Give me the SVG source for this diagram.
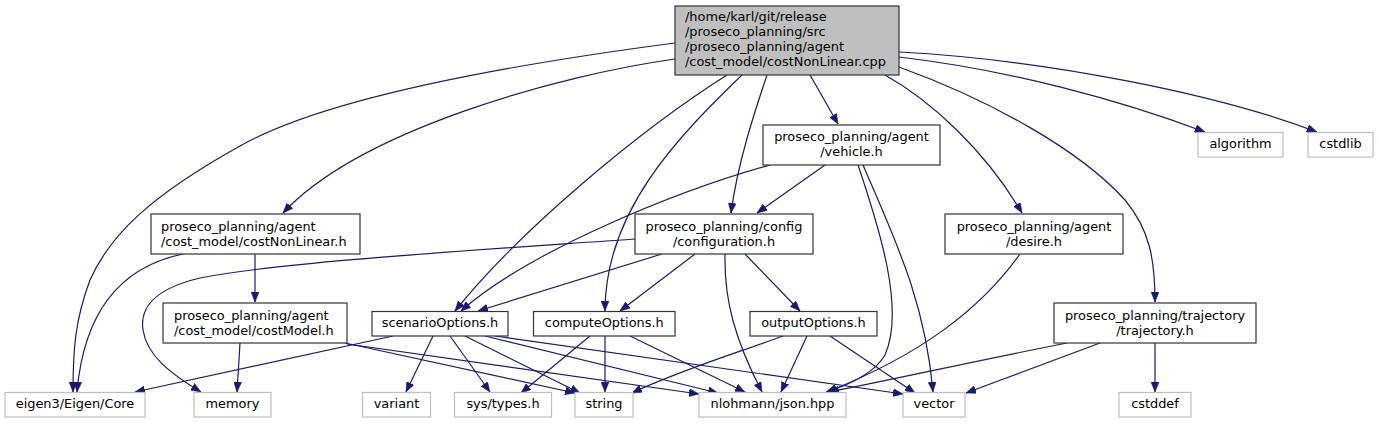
<svg xmlns="http://www.w3.org/2000/svg" width="1379" height="424" viewBox="0 0 1379 424">
<defs>
<marker id="ah" markerUnits="userSpaceOnUse" markerWidth="10" markerHeight="8" refX="10" refY="4" orient="auto" viewBox="0 0 10 8">
<path d="M0,0 L10,4 L0,8 z" fill="#191970" stroke="#191970" stroke-width="0.5"/>
</marker>
<style>
.n rect{fill:#fff;stroke:#333;stroke-width:1.2}
.n.top rect{fill:#bfbfbf}
.n.ext rect{stroke:#bfbfbf}
text{font-family:"DejaVu Sans","Liberation Sans",sans-serif;font-size:12.9px;fill:#000}
.c{text-anchor:middle}
#edges path{fill:none;stroke:#191970;stroke-width:1.2;marker-end:url(#ah)}
</style>
</defs>
<rect width="1379" height="424" fill="#fff"/>
<g id="edges">
<path d="M675,43 C530,62 330,95 240,146 C150,196 110,235 90,280 C75,320 73,350 73,392"/>
<path d="M675,59 C560,75 360,130 283,213"/>
<path d="M727,75 C640,130 520,230 455,311"/>
<path d="M742,75 C680,135 605,210 605,311"/>
<path d="M767,75 C757,105 738,160 731,213"/>
<path d="M810,75 L838,124"/>
<path d="M885,75 C930,100 985,150 1022,213"/>
<path d="M899,67 C990,100 1080,150 1125,200 C1150,230 1155,260 1155,302"/>
<path d="M899,57 C1010,70 1120,100 1205,132"/>
<path d="M899,52 C1050,60 1220,95 1317,132"/>
<path d="M183,254 C130,265 85,300 77,392"/>
<path d="M255,254 L255,302"/>
<path d="M240,343 L237,392"/>
<path d="M345,343 L575,393"/>
<path d="M347,344 L699,394"/>
<path d="M770,165 C680,190 530,250 461,311"/>
<path d="M825,165 L757,213"/>
<path d="M858,165 C880,230 905,310 885,355 C875,372 855,383 826,392"/>
<path d="M863,165 C895,240 925,300 933,392"/>
<path d="M635,239 C480,250 280,262 200,278 C150,290 140,310 143,330 C147,355 168,372 201,392"/>
<path d="M662,254 L478,311"/>
<path d="M695,254 L620,311"/>
<path d="M745,254 L800,311"/>
<path d="M725,254 C724,300 735,340 762,392"/>
<path d="M1020,254 C980,310 920,355 827,392"/>
<path d="M393,336 L135,392"/>
<path d="M433,336 L406,392"/>
<path d="M450,336 L490,392"/>
<path d="M465,336 L580,393"/>
<path d="M485,336 L718,393"/>
<path d="M495,336 L903,394"/>
<path d="M590,336 L521,393"/>
<path d="M605,336 L605,392"/>
<path d="M630,336 L745,392"/>
<path d="M783,336 C740,352 680,370 632,393"/>
<path d="M807,336 L781,392"/>
<path d="M830,336 L915,393"/>
<path d="M1067,343 C980,360 900,378 829,392"/>
<path d="M1100,343 L966,393"/>
<path d="M1155,343 L1155,392"/>
</g>
<g id="n1" class="n top"><rect x="675" y="6" width="224" height="69"/>
<text x="685" y="21">/home/karl/git/release</text><text x="685" y="36">/proseco_planning/src</text><text x="685" y="51">/proseco_planning/agent</text><text x="685" y="66">/cost_model/costNonLinear.cpp</text></g>
<g id="n2" class="n"><rect x="763" y="125" width="177" height="40"/>
<text class="c" x="851.5" y="141">proseco_planning/agent</text><text class="c" x="851.5" y="156">/vehicle.h</text></g>
<g id="n3" class="n"><rect x="151" y="214" width="209" height="40"/>
<text x="161" y="230.5">proseco_planning/agent</text><text x="161" y="245.5">/cost_model/costNonLinear.h</text></g>
<g id="n4" class="n"><rect x="635" y="214" width="178" height="40"/>
<text class="c" x="724" y="230.5">proseco_planning/config</text><text class="c" x="724" y="245.5">/configuration.h</text></g>
<g id="n5" class="n"><rect x="945" y="214" width="178" height="40"/>
<text class="c" x="1034" y="230.5">proseco_planning/agent</text><text class="c" x="1034" y="245.5">/desire.h</text></g>
<g id="n6" class="n"><rect x="163" y="303" width="184" height="40"/>
<text x="174" y="319.5">proseco_planning/agent</text><text x="174" y="334.5">/cost_model/costModel.h</text></g>
<g id="n7" class="n"><rect x="372" y="311.5" width="136" height="24.5"/><text class="c" x="440" y="327">scenarioOptions.h</text></g>
<g id="n8" class="n"><rect x="533.5" y="311.5" width="141.5" height="24.5"/><text class="c" x="604.25" y="327">computeOptions.h</text></g>
<g id="n9" class="n"><rect x="750" y="311.5" width="127" height="24.5"/><text class="c" x="813.5" y="327">outputOptions.h</text></g>
<g id="n10" class="n"><rect x="1054" y="303" width="202" height="40"/>
<text class="c" x="1155" y="319.5">proseco_planning/trajectory</text><text class="c" x="1155" y="334.5">/trajectory.h</text></g>
<g id="n11" class="n ext"><rect x="1198" y="132.5" width="85" height="24.5"/><text class="c" x="1240.5" y="148">algorithm</text></g>
<g id="n12" class="n ext"><rect x="1308" y="132.5" width="65" height="24.5"/><text class="c" x="1340.5" y="148">cstdlib</text></g>
<g id="n13" class="n ext"><rect x="5" y="392.5" width="140" height="24.5"/><text class="c" x="75" y="408">eigen3/Eigen/Core</text></g>
<g id="n14" class="n ext"><rect x="194" y="392.5" width="77" height="24.5"/><text class="c" x="232.5" y="408">memory</text></g>
<g id="n15" class="n ext"><rect x="362.5" y="392.5" width="68" height="24.5"/><text class="c" x="396.5" y="408">variant</text></g>
<g id="n16" class="n ext"><rect x="454.5" y="392.5" width="97" height="24.5"/><text class="c" x="503" y="408">sys/types.h</text></g>
<g id="n17" class="n ext"><rect x="575" y="392.5" width="58" height="24.5"/><text class="c" x="604" y="408">string</text></g>
<g id="n18" class="n ext"><rect x="699" y="392.5" width="147" height="24.5"/><text class="c" x="772.5" y="408">nlohmann/json.hpp</text></g>
<g id="n19" class="n ext"><rect x="903" y="392.5" width="62" height="24.5"/><text class="c" x="934" y="408">vector</text></g>
<g id="n20" class="n ext"><rect x="1119" y="392.5" width="72" height="24.5"/><text class="c" x="1155" y="408">cstddef</text></g>
</svg>
